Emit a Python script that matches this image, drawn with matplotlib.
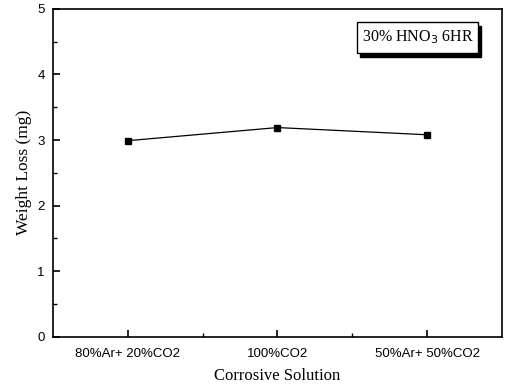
import numpy as np
import matplotlib.pyplot as plt
from matplotlib.patches import Rectangle

solutions = ["80%Ar+ 20%CO2", "100%CO2", "50%Ar+ 50%CO2"]
weight_loss = [2.99, 3.19, 3.08]

fig = plt.figure(figsize=(5.05, 3.87), dpi=100)
ax = fig.add_axes([0.105, 0.130, 0.889, 0.847])

x = np.arange(len(solutions))
ax.plot(x, weight_loss, color="black", lw=0.9, marker="s", ms=5, mfc="black")

ax.set_xlim(-0.5, 2.5)
ax.set_ylim(0, 5)
ax.set_xticks(x)
ax.set_xticklabels(solutions, fontfamily="Liberation Sans", fontsize=9.5)
ax.set_xticks([0.5, 1.5], minor=True)
ax.set_yticks(range(6))
ax.set_yticklabels([str(v) for v in range(6)], fontfamily="Liberation Sans", fontsize=9.5)
ax.set_yticks(np.arange(0.5, 5, 1.0), minor=True)
ax.tick_params(direction="in", length=5, width=1.2, top=False, right=False)
ax.tick_params(axis="x", pad=8)
ax.tick_params(axis="y", pad=6)
ax.tick_params(which="minor", direction="in", length=3, width=1)
for s in ax.spines.values():
    s.set_linewidth(1.2)

ax.set_xlabel("Corrosive Solution", fontfamily="Liberation Serif", fontsize=12, labelpad=6)
ax.set_ylabel("Weight Loss (mg)", fontfamily="Liberation Serif", fontsize=12.5, labelpad=4)

# label box with drop shadow
bx, by, bw, bh = 0.677, 0.865, 0.270, 0.095
ax.add_patch(Rectangle((bx + 0.007, by - 0.011), bw, bh, transform=ax.transAxes,
                       facecolor="black", edgecolor="black", zorder=3))
ax.add_patch(Rectangle((bx, by), bw, bh, transform=ax.transAxes,
                       facecolor="white", edgecolor="black", lw=1, zorder=4))
ax.text(bx + bw / 2, by + bh / 2, r"30% HNO$_3$ 6HR", transform=ax.transAxes,
        ha="center", va="center", fontfamily="Liberation Serif", fontsize=11.5,
        zorder=5)

fig.savefig("out.png", dpi=100)
